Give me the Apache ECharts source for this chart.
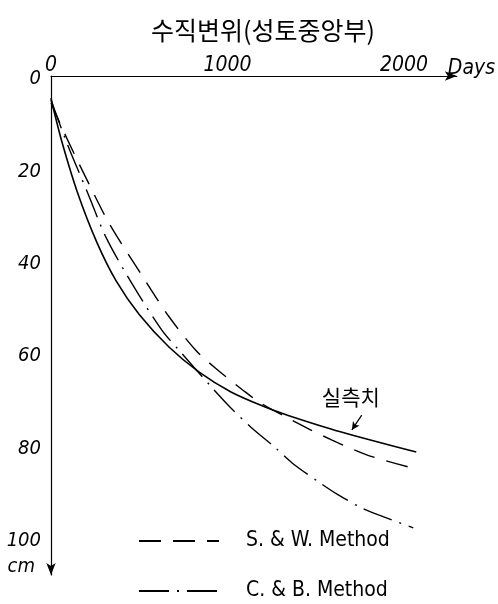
<!DOCTYPE html>
<html>
<head>
<meta charset="utf-8">
<script src="https://cdn.jsdelivr.net/npm/echarts@6/dist/echarts.min.js"></script>
<style>
html,body{margin:0;padding:0;background:#fff;}
#chart{width:498px;height:604px;}
</style>
</head>
<body>
<div id="chart"></div>
<script>
// ---- data ----
const titleText = '수직변위(성토중앙부)';
const measuredLabel = '실측치';
const xTicks = [0, 1000, 2000];
const yTicks = [0, 20, 40, 60, 80, 100];

// measured (solid)
const measDays = [0, 10, 60, 150, 260, 370, 500, 670, 840, 1020, 1210, 1340, 1640, 2070];
const measVals = [4.8, 6.5, 14.0, 25.2, 36.0, 44.4, 51.6, 58.7, 64.1, 68.4, 71.6, 73.4, 77.0, 81.4];

// S. & W. Method (dashed)
const swDays = [0, 90, 208, 331, 516, 667, 819, 931, 1088, 1189, 1441, 1593, 1789, 2025];
const swVals = [5.8, 13.5, 22.8, 32.0, 43.2, 52.0, 59.3, 63.2, 68.0, 70.8, 76.0, 78.8, 82.0, 84.6];

// C. & B. Method (dash-dot)
const cbDays = [0, 90, 208, 314, 471, 628, 724, 909, 1021, 1133, 1273, 1368, 1526, 1621, 1761, 1856, 2053];
const cbVals = [5.2, 14.5, 25.3, 35.1, 45.7, 55.0, 59.3, 67.3, 71.9, 76.0, 80.5, 83.8, 88.1, 90.5, 93.5, 95.0, 97.8];

const seriesNames = ['실측', 'S. & W. Method', 'C. & B. Method'];

const pairs = (xs, ys) => xs.map((x, i) => [x, ys[i]]);

const numFont = '"Liberation Sans Narrow", "DejaVu Sans Condensed", "Liberation Sans", sans-serif';
const krFont = '"Noto Sans CJK KR", "Noto Sans", sans-serif';

const chart = echarts.init(document.getElementById('chart'), null, {renderer: 'canvas'});
chart.setOption({
  backgroundColor: '#fff',
  animation: false,
  title: {
    text: titleText,
    left: 258,
    textAlign: 'center',
    top: 13,
    textStyle: {fontFamily: krFont, fontSize: 25, fontWeight: 'normal', color: '#000'}
  },
  legend: {
    data: [seriesNames[1], seriesNames[2]],
    orient: 'vertical',
    left: 138,
    top: 530,
    padding: 0,
    itemWidth: 80,
    itemHeight: 14,
    itemGap: 28,
    itemStyle: {color: 'rgba(0,0,0,0)', borderWidth: 0, opacity: 0},
    textStyle: {fontFamily: numFont, fontSize: 21, lineHeight: 22, color: '#000', padding: [0, 0, 0, 22]}
  },
  grid: {left: 51, top: 76, width: 410, height: 499, containLabel: false},
  xAxis: {
    type: 'value',
    position: 'top',
    min: 0, max: 2300, interval: 1000,
    axisLine: {show: true, onZero: false, lineStyle: {color: '#000', width: 1.2}, symbol: ['none', 'arrow'], symbolSize: [7, 12]},
    axisTick: {show: false},
    splitLine: {show: false},
    axisLabel: {
      margin: 0,
      fontFamily: numFont, fontStyle: 'italic', fontSize: 21, color: '#000',
      formatter: v => xTicks.includes(v) ? String(v) : ''
    },
    name: 'Days',
    nameLocation: 'end',
    nameGap: -9,
    nameTextStyle: {fontFamily: numFont, fontStyle: 'italic', fontSize: 21, lineHeight: 14, color: '#000', align: 'left', verticalAlign: 'bottom'}
  },
  yAxis: {
    type: 'value',
    inverse: true,
    min: 0, max: 108, interval: 20,
    axisLine: {show: true, onZero: false, lineStyle: {color: '#000', width: 1.2}, symbol: ['arrow', 'none'], symbolSize: [7, 12]},
    axisTick: {show: false},
    splitLine: {show: false},
    axisLabel: {
      margin: 10,
      verticalAlign: 'top',
      lineHeight: 6,
      fontFamily: numFont, fontStyle: 'italic', fontSize: 20, color: '#000',
      formatter: v => yTicks.includes(v) ? String(v) : ''
    },
    name: 'cm',
    nameLocation: 'end',
    nameGap: -8,
    nameTextStyle: {fontFamily: numFont, fontStyle: 'italic', fontSize: 20, color: '#000', align: 'right', verticalAlign: 'middle', padding: [0, 16, 0, 0]}
  },
  series: [
    {
      name: seriesNames[0], type: 'line', data: pairs(measDays, measVals),
      symbol: 'none', smooth: 0.3,
      lineStyle: {color: '#000', width: 1.6, type: 'solid'},
      markPoint: {
        symbol: 'circle', symbolSize: 0,
        label: {show: true, formatter: measuredLabel, fontFamily: krFont, fontSize: 21, color: '#000'},
        data: [{coord: [1699, 69.5]}]
      },
      markLine: {
        silent: true,
        symbol: ['none', 'arrow'], symbolSize: [6, 8],
        label: {show: false},
        lineStyle: {color: '#000', width: 1.2, type: 'solid'},
        data: [[{coord: [1761, 73.4]}, {coord: [1705, 76.6]}]]
      }
    },
    {
      name: seriesNames[1], type: 'line', data: pairs(swDays, swVals),
      symbol: 'none', smooth: 0.3,
      lineStyle: {color: '#000', width: 1.4, type: [22, 12]}
    },
    {
      name: seriesNames[2], type: 'line', data: pairs(cbDays, cbVals),
      symbol: 'none', smooth: 0.3,
      lineStyle: {color: '#000', width: 1.4, type: [30, 8, 2, 8]}
    }
  ]
});
</script>
</body>
</html>
